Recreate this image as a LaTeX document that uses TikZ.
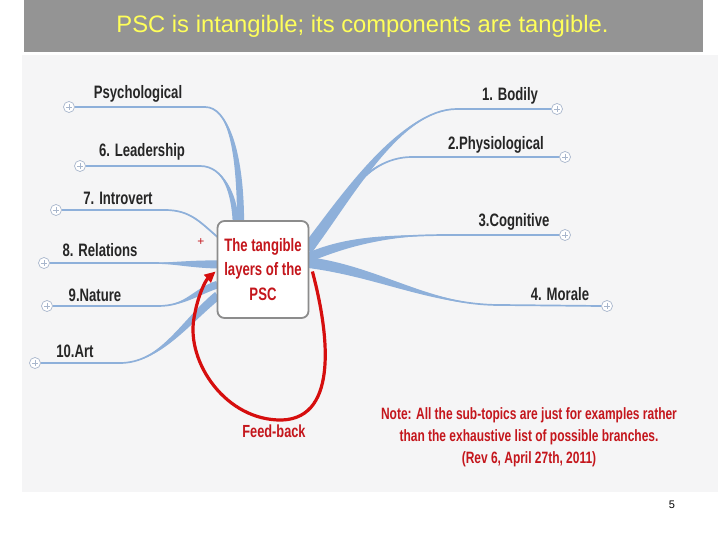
\documentclass[tikz,border=0pt]{standalone}
\usepackage{fontspec}
\setmainfont{Liberation Sans}
\newfontfamily\narrowfont[FakeStretch=0.73]{Liberation Sans}
\usetikzlibrary{positioning,calc,arrows.meta}
\definecolor{titlegray}{RGB}{148,148,148}
\definecolor{titleyellow}{RGB}{255,255,90}
\definecolor{panelgray}{RGB}{245,245,246}
\definecolor{branchblue}{RGB}{142,176,218}
\definecolor{plusblue}{RGB}{168,182,204}
\definecolor{notered}{RGB}{196,22,28}
\definecolor{loopred}{RGB}{214,14,14}
\pgfdeclarelayer{links}
\pgfsetlayers{links,main}
\tikzset{
        % Branch titles
        topic/.style={inner sep=0pt, text=black!85, font=\narrowfont\bfseries\fontsize{18}{20}\selectfont},
        % Expand buttons at the branch ends
        expander/.style={circle, draw=plusblue, fill=white, line width=0.7pt, minimum size=11pt, inner sep=0pt,
                path picture={\draw[plusblue, line width=0.6pt]
                        ($(path picture bounding box.center)+(-3.2,0)$) -- ($(path picture bounding box.center)+(3.2,0)$)
                        ($(path picture bounding box.center)+(0,-3.2)$) -- ($(path picture bounding box.center)+(0,3.2)$);}},
        % Central topic
        hubbox/.style={rectangle, rounded corners=7pt, draw=black!45, line width=1.8pt, fill=white,
                minimum width=91pt, minimum height=97pt, align=center, text=notered,
                font=\narrowfont\bfseries\fontsize{18}{24.5}\selectfont},
        % Thin part of a branch
        twig/.style={draw=branchblue, line width=1.7pt},
        % Red feed-back loop
        feedback/.style={draw=loopred, line width=3.2pt, -{Triangle[length=11pt, width=10pt]}},
        % Red remarks
        remark/.style={text=notered, align=center, font=\narrowfont\bfseries\fontsize{16.4}{22}\selectfont}
}
% hub coordinate, half width, first control, second control, bend, end node
\newcommand{\branch}[6]{%
        \fill[branchblue] ($(#1)+(#2)$) .. controls ($(#3)+(#2)$) and (#4) .. (#5)
                .. controls (#4) and ($(#3)-(#2)$) .. ($(#1)-(#2)$) -- cycle;
        \draw[twig] (#1) .. controls (#3) and (#4) .. (#5) -- (#6);
}
\begin{document}
\begin{tikzpicture}[x=1pt, y=-1pt]
        \useasboundingbox (0,0) rectangle (720,540);
        \begin{pgfonlayer}{links}
                \fill[white] (0,0) rectangle (720,540);
                \fill[panelgray] (22,55) rectangle (718,492);
        \end{pgfonlayer}
        \fill[titlegray] (24,0) rectangle (703,52);
        \node[text=titleyellow, font=\fontsize{23.8}{26}\selectfont] (title) at (362.5,26)
                {PSC is intangible; its components are tangible.};

        \node[hubbox] (core) at (263,269.5) {The tangible\\layers of the\\PSC};

        % left side
        \node[expander] (psy) at (69,107) {};
        \node[expander] (lead) at (80,166) {};
        \node[expander] (intro) at (56,210) {};
        \node[expander] (rel) at (44,263) {};
        \node[expander] (nat) at (47,306) {};
        \node[expander] (art) at (35,363) {};
        % right side
        \node[expander] (body) at (557,109) {};
        \node[expander] (physio) at (565,157) {};
        \node[expander] (cogn) at (565,235) {};
        \node[expander] (moral) at (607,306) {};

        \node[topic] (psyl) at (138,94) {Psychological};
        \node[topic] (leadl) at (142,152) {6. Leadership};
        \node[topic] (introl) at (118,198) {7. Introvert};
        \node[topic] (rell) at (100,250) {8. Relations};
        \node[topic] (natl) at (95,295) {9.Nature};
        \node[topic] (artl) at (75,351) {10.Art};
        \node[topic] (bodyl) at (510,96) {1. Bodily};
        \node[topic] (physiol) at (496,145) {2.Physiological};
        \node[topic] (cognl) at (514,222) {3.Cognitive};
        \node[topic] (morall) at (560,294) {4. Morale};

        % where the branches leave the box
        \coordinate (hpsy) at ($(core.north west)+(24,0)$);
        \coordinate (hlead) at ($(core.north west)+(19,0)$);
        \coordinate (hintro) at ($(core.north west)+(1,17)$);
        \coordinate (hrel) at ($(core.west)+(1,-5)$);
        \coordinate (hnat) at ($(core.west)+(1,15)$);
        \coordinate (hart) at ($(core.west)+(1,26)$);
        \coordinate (hbody) at ($(core.east)+(-1,-22)$);
        \coordinate (hphysio) at ($(core.east)+(-1,-19)$);
        \coordinate (hcogn) at ($(core.east)+(-1,-12)$);
        \coordinate (hmoral) at ($(core.east)+(-1,-7)$);

        \begin{pgfonlayer}{links}
                \branch{hpsy}{3.5,0}{240,150}{228,107}{205,107}{psy.east}
                \branch{hlead}{3,0}{234,195}{224,166}{200,166}{lead.east}
                \branch{hintro}{2,2.5}{200,222}{190,210}{165,210}{intro.east}
                \branch{hrel}{0,4}{190,264}{170,263}{145,263}{rel.east}
                \branch{hnat}{1.5,3.5}{195,292}{185,306}{158,306}{nat.east}
                \branch{hart}{2.5,3.5}{185,322}{160,363}{120,363}{art.east}
                \branch{hbody}{4,4}{345,200}{400,109}{457,109}{body.west}
                \branch{hphysio}{3,3}{335,212}{362,157}{412,157}{physio.west}
                \branch{hcogn}{0,5}{350,240}{392,235}{450,235}{cogn.west}
                \branch{hmoral}{0,5.5}{380,272}{430,305}{500,305}{moral.west}
        \end{pgfonlayer}

        \node[text=notered, font=\fontsize{12}{12}\selectfont] (mark) at (201,242) {+};
        \draw[feedback] ($(core.east)+(3,2)$) .. controls (328,330) and (340,418) .. (282,420)
                .. controls (226,421) and (186,362) .. (194,318)
                .. controls (198,294) and (206,280) .. ($(core.west)+(-1,2)$);
        \node[remark, font=\narrowfont\bfseries\fontsize{17.5}{19}\selectfont] (fb) at (274,431) {Feed-back};
        \node[remark] (note) at (529,437) {Note: All the sub-topics are just for examples rather\\
                than the exhaustive list of possible branches.\\(Rev 6, April 27th, 2011)};
        \node[font=\fontsize{11}{12}\selectfont] (page) at (672,505) {5};
\end{tikzpicture}
\end{document}
